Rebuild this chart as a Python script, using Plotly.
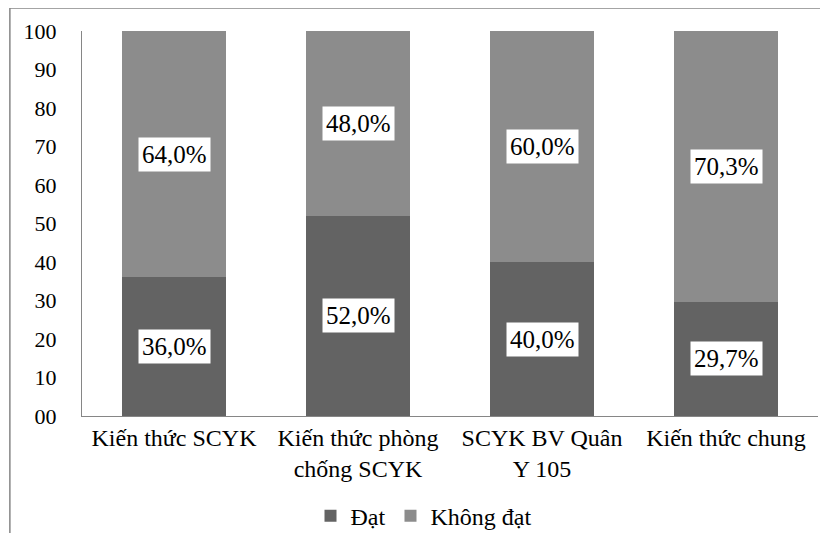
import plotly.graph_objects as go

categories = ["Kiến thức SCYK", "Kiến thức phòng<br>chống SCYK", "SCYK BV Quân<br>Y 105", "Kiến thức chung"]
dat = [36.0, 52.0, 40.0, 29.7]
khong_dat = [64.0, 48.0, 60.0, 70.3]
y_ticks = [0, 10, 20, 30, 40, 50, 60, 70, 80, 90, 100]
y_tick_text = ["00", "10", "20", "30", "40", "50", "60", "70", "80", "90", "100"]

DARK = "#636363"
LIGHT = "#8c8c8c"
FONT = "Liberation Serif"

fig = go.Figure()
fig.add_bar(x=categories, y=dat, name="Đạt", marker=dict(color=DARK, line=dict(width=0)), width=0.565)
fig.add_bar(x=categories, y=khong_dat, name="Không đạt", marker=dict(color=LIGHT, line=dict(width=0)), width=0.565)

annotations = []
for c, a, b in zip(categories, dat, khong_dat):
    for center, val in ((a / 2, a), (a + b / 2, b)):
        annotations.append(dict(
            x=c, y=center, xref="x", yref="y", showarrow=False,
            text=f"{val:.1f}%".replace(".", ","),
            font=dict(family=FONT, size=25, color="black"),
            bgcolor="white", borderpad=3,
        ))

fig.update_layout(
    barmode="stack",
    width=820, height=525,
    margin=dict(l=74, r=10, t=23, b=117, autoexpand=False),
    paper_bgcolor="white", plot_bgcolor="white",
    font=dict(family=FONT, size=22, color="black"),
    showlegend=True,
    legend=dict(orientation="h", x=0.464, xanchor="center", y=-0.26, yanchor="middle",
                bgcolor="rgba(0,0,0,0)",
                font=dict(family=FONT, size=24), itemwidth=30, traceorder="normal"),
    annotations=annotations,
    shapes=[dict(type="rect", xref="paper", yref="paper", x0=-0.098, x1=1.2, y0=-0.5, y1=1.06,
                 line=dict(color="#868686", width=1.5), fillcolor="rgba(0,0,0,0)", layer="below")],
)
fig.update_xaxes(showline=True, linecolor="#868686", linewidth=1, ticks="", tickfont=dict(family=FONT, size=24),
                 showgrid=False, automargin=False)
fig.update_yaxes(range=[0, 100], tickvals=y_ticks, ticktext=y_tick_text, showline=True, linecolor="#868686",
                 linewidth=1, showgrid=False, ticks="", ticklen=0, tickfont=dict(family=FONT, size=22),
                 zeroline=False, ticklabelstandoff=20, automargin=False)

fig.write_html("out.html")
